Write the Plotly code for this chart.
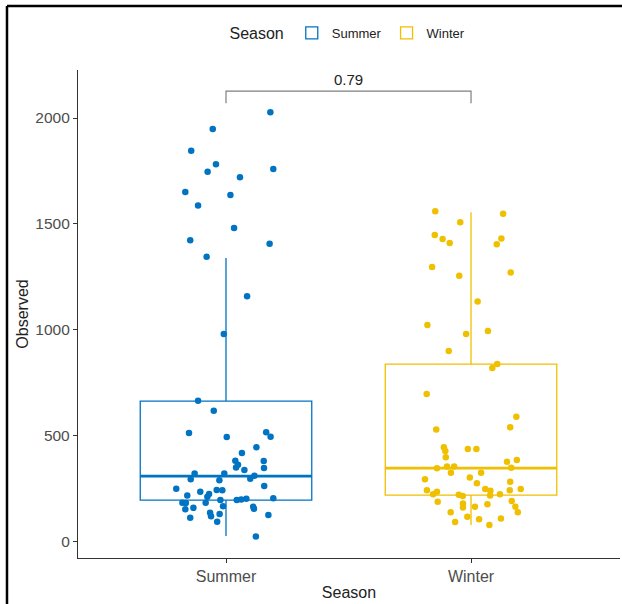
import plotly.graph_objects as go

categories = ["Summer", "Winter"]
colors = ["#0073C2", "#EFC000"]

summer_values = [2027, 1948, 1845, 1782, 1746, 1759, 1720, 1650, 1636, 1587, 1480, 1422, 1406, 1344,
                 1157, 979, 663, 616, 511, 492, 515, 493, 444, 416, 378, 380, 361, 348, 345, 336,
                 320, 320, 292, 288, 295, 309, 247, 260, 233, 241, 240, 216, 222, 209, 194, 194,
                 197, 200, 203, 181, 180, 181, 165, 157, 151, 162, 153, 134, 117, 128, 123, 110, 91, 22]
summer_jitter = [0.181, -0.054, -0.142, -0.041, -0.075, 0.193, 0.057, -0.166, 0.018, -0.114, 0.033,
                 -0.146, 0.178, -0.079, 0.086, -0.009, -0.114, -0.050, -0.151, 0.003, 0.164, 0.182,
                 0.124, 0.065, 0.154, 0.038, 0.049, 0.041, 0.155, 0.075, -0.128, -0.007, -0.144,
                 -0.027, 0.099, 0.116, -0.203, 0.156, -0.105, -0.038, -0.015, -0.158, -0.069, -0.076,
                 -0.023, 0.044, 0.062, 0.083, 0.193, -0.178, -0.164, -0.083, -0.012, -0.133, -0.166,
                 0.111, 0.114, -0.065, -0.061, -0.026, 0.173, -0.146, -0.036, 0.122]

winter_values = [1559, 1548, 1507, 1447, 1428, 1409, 1431, 1403, 1296, 1254, 1270, 1133, 1021, 993,
                 979, 898, 837, 818, 695, 588, 538, 528, 443, 426, 396, 435, 435, 375, 383, 344,
                 353, 353, 347, 323, 323, 292, 301, 273, 280, 240, 233, 221, 246, 238, 216, 221,
                 240, 246, 219, 213, 186, 178, 159, 162, 174, 189, 162, 136, 136, 115, 107, 90, 103, 76]
winter_jitter = [-0.146, 0.131, -0.044, -0.148, -0.116, -0.087, 0.124, 0.105, -0.159, -0.048, 0.162,
                 0.027, -0.178, 0.069, -0.020, -0.091, 0.107, 0.087, -0.181, 0.185, 0.160, -0.142,
                 -0.111, -0.105, -0.103, -0.013, 0.022, 0.147, 0.187, -0.139, -0.098, -0.069, 0.164,
                 -0.082, 0.041, -0.188, -0.005, 0.024, 0.160, -0.180, -0.139, -0.155, 0.058, 0.079,
                 0.078, 0.118, 0.158, 0.203, -0.050, -0.034, -0.136, -0.033, -0.033, 0.016, 0.067,
                 0.166, 0.181, 0.191, -0.083, -0.015, 0.122, -0.065, 0.033, 0.075]

q1 = [194, 217]
medians = [307, 345]
q3 = [662, 837]
lower_whisker = [24, 76]
upper_whisker = [1338, 1555]

p_value_label = "0.79"
y_ticks = [0, 500, 1000, 1500, 2000]

values = [summer_values, winter_values]
jitters = [summer_jitter, winter_jitter]
box_width = 0.7

fig = go.Figure()
for i, cat in enumerate(categories):
    fig.add_trace(go.Box(
        x=[i], q1=[q1[i]], median=[medians[i]], q3=[q3[i]],
        lowerfence=[lower_whisker[i]], upperfence=[upper_whisker[i]],
        name=cat, legendgroup=cat, width=box_width, whiskerwidth=0,
        line=dict(color=colors[i], width=1.3), fillcolor="white",
        boxpoints=False, hoverinfo="skip", showlegend=True,
    ))
    fig.add_trace(go.Scatter(
        x=[i - box_width / 2, i + box_width / 2], y=[medians[i], medians[i]],
        mode="lines", line=dict(color=colors[i], width=2.6),
        showlegend=False, hoverinfo="skip", legendgroup=cat,
    ))
for i, cat in enumerate(categories):
    fig.add_trace(go.Scatter(
        x=[i + j for j in jitters[i]], y=values[i], mode="markers",
        marker=dict(color=colors[i], size=6.5, line=dict(width=0)),
        showlegend=False, legendgroup=cat, name=cat,
    ))

# significance bracket
top_y = max(max(v) for v in values) + 100
tick_drop = 57
fig.add_trace(go.Scatter(
    x=[0, 0, 1, 1], y=[top_y - tick_drop, top_y, top_y, top_y - tick_drop],
    mode="lines", line=dict(color="#7f7f7f", width=1.2),
    showlegend=False, hoverinfo="skip",
))
fig.add_annotation(x=0.5, y=top_y, text=p_value_label, showarrow=False,
                   yanchor="bottom", yshift=1, font=dict(size=15, color="#222222"))

# outer image frame
fig.add_shape(type="line", xref="paper", yref="paper", x0=-0.131, x1=1.02, y0=1.131, y1=1.131,
              line=dict(color="black", width=2.5))
fig.add_shape(type="line", xref="paper", yref="paper", x0=-0.131, x1=-0.131, y0=1.131, y1=-0.12,
              line=dict(color="black", width=2.5))

axis_color = "#4d4d4d"
fig.update_layout(
    width=622, height=604,
    margin=dict(l=78, r=2, t=70, b=46),
    paper_bgcolor="white", plot_bgcolor="white",
    font=dict(family="Liberation Sans, Arial, sans-serif", color="#333333"),
    showlegend=True,
    legend=dict(orientation="h", x=0.5, xanchor="center", y=1.075, yanchor="middle",
                title=dict(text="Season", font=dict(size=16, color="#222222")),
                font=dict(size=13, color="#222222")),
    xaxis=dict(range=[-0.604, 1.608], tickvals=[0, 1], ticktext=categories,
               showline=True, linecolor="#333333", linewidth=1.3, ticks="outside",
               tickcolor="#333333", ticklen=4, showgrid=False, zeroline=False,
               tickfont=dict(size=16, color=axis_color),
               title=dict(text="Season", font=dict(size=16, color="#222222"), standoff=2)),
    yaxis=dict(range=[-80, 2227], tickvals=y_ticks, showline=True, linecolor="#333333",
               linewidth=1.3, ticks="outside", tickcolor="#333333", ticklen=4,
               showgrid=False, zeroline=False, tickfont=dict(size=15.5, color=axis_color),
               title=dict(text="Observed", font=dict(size=16, color="#222222"), standoff=2)),
)

fig.write_html("out.html")
